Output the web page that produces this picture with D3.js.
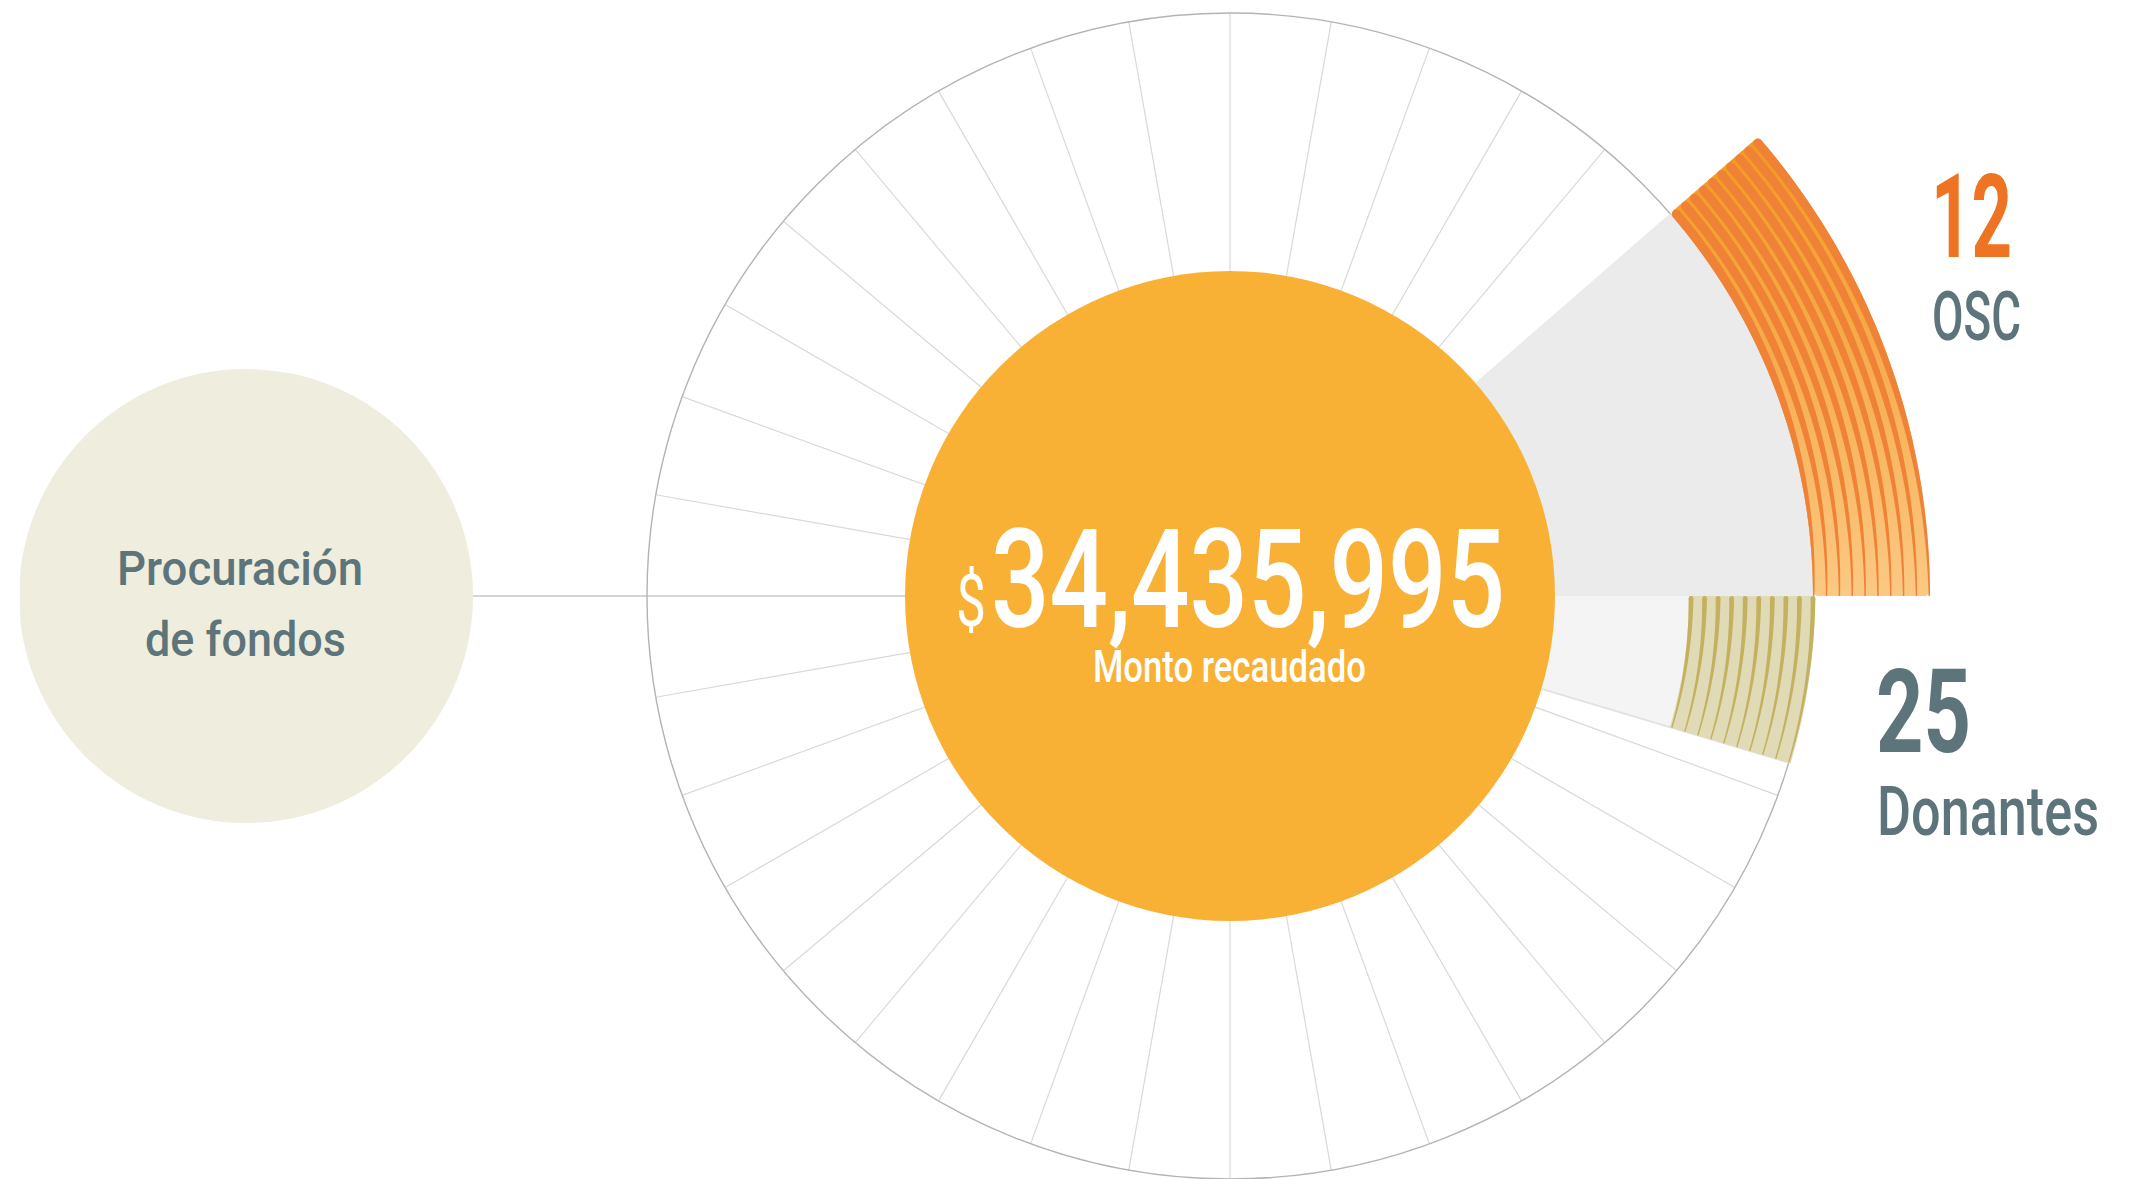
<!DOCTYPE html>
<html>
<head>
<meta charset="utf-8">
<script src="https://cdn.jsdelivr.net/npm/d3@7"></script>
<style>
	body { margin: 0; background: #fff; }
	text { font-family: Roboto, "Noto Sans", sans-serif; }
</style>
</head>
<body>
<svg class="chart"></svg>
<script>

// Chart values:

var groupLabels = ["OSC", "Donantes"],
	groupValues = [12, 25],
	groupSpans = [[0, 41], [0, -16.6]],   // degrees, counter-clockwise from 3 o'clock
	groupStripes = [10, 10],
	totalRaised = 34435995,
	totalLabel = "Monto recaudado",
	sourceLines = ["Procuración", "de fondos"],
	spokeStep = 10;

// Basic dimensions:

var width = 2142,
	height = 1179,
	cx = 1230,
	cy = 596,
	outerR = 583,
	innerR = 325,
	bandInner = 583,
	bandOuter = 700,
	donorInner = 459,
	donorOuter = 585,
	sourceX = 246,
	sourceR = 227;

var slate = "#5d747a",
	orange = "#ee7322";

var chart = d3.select(".chart")
	.attr("width", width)
	.attr("height", height);

// degrees (math convention) -> d3 radial angle
var angle = d3.scaleLinear().domain([0, 90]).range([Math.PI / 2, 0]);

function px(r, deg) { return r * Math.cos(deg * Math.PI / 180); }
function py(r, deg) { return -r * Math.sin(deg * Math.PI / 180); }

var defs = chart.append("defs");

// gradient in the coordinates of the centred group
var grad = defs.append("linearGradient")
	.attr("id", "bandGrad")
	.attr("gradientUnits", "userSpaceOnUse")
	.attr("x1", 0).attr("y1", py(bandOuter, groupSpans[0][1]))
	.attr("x2", 0).attr("y2", 0);
grad.append("stop").attr("offset", 0).attr("stop-color", "#f39a1d");
grad.append("stop").attr("offset", 0.45).attr("stop-color", "#f6ab4b");
grad.append("stop").attr("offset", 1).attr("stop-color", "#fbc984");

defs.append("clipPath").attr("id", "leftClip")
	.append("rect").attr("x", 20).attr("y", 0).attr("width", width).attr("height", height);

// Connector to the source circle (under everything):

chart.append("line")
	.attr("x1", sourceX + sourceR).attr("y1", cy)
	.attr("x2", cx).attr("y2", cy)
	.style("stroke", "#c6c6c6")
	.style("stroke-width", 1.5);

var g = chart.append("g").attr("transform", "translate(" + cx + "," + cy + ")");

// Spokes and outer ring:

g.selectAll(".spoke")
	.data(d3.range(0, 360, spokeStep))
	.enter().append("line")
	.attr("class", "spoke")
	.attr("x1", 0).attr("y1", 0)
	.attr("x2", function(d) { return px(outerR, d); })
	.attr("y2", function(d) { return py(outerR, d); })
	.style("stroke", "#d9d9d9")
	.style("stroke-width", 1.2);

g.append("circle")
	.attr("r", outerR)
	.style("fill", "none")
	.style("stroke", "#b3b3b3")
	.style("stroke-width", 1.4);

// Wedges behind the two groups:

var arc = d3.arc();

g.append("path")
	.attr("d", arc({ innerRadius: 0, outerRadius: outerR,
		startAngle: angle(groupSpans[0][1]), endAngle: angle(groupSpans[0][0]) }))
	.style("fill", "#ebebeb");

g.append("path")
	.attr("d", arc({ innerRadius: 0, outerRadius: donorOuter,
		startAngle: angle(groupSpans[1][0]), endAngle: angle(groupSpans[1][1]) }))
	.style("fill", "#f4f4f4");

g.append("line")
	.attr("x1", px(innerR, groupSpans[1][1])).attr("y1", py(innerR, groupSpans[1][1]))
	.attr("x2", px(donorOuter, groupSpans[1][1])).attr("y2", py(donorOuter, groupSpans[1][1]))
	.style("stroke", "#e2e2e2")
	.style("stroke-width", 2);

// OSC band: gradient base plus tapering stripes

g.append("path")
	.attr("d", arc.cornerRadius(5)({ innerRadius: bandInner, outerRadius: bandOuter,
		startAngle: angle(groupSpans[0][1]), endAngle: angle(groupSpans[0][0]) }))
	.style("fill", "url(#bandGrad)");
arc.cornerRadius(0);

var steps = d3.range(0, 61).map(function(i) { return i / 60; });

function oscThick(f) { return 1.4 + 7.6 * Math.sin(f * Math.PI / 2); }

var nOsc = groupStripes[0],
	bandW = bandOuter - bandInner;

d3.range(nOsc).forEach(function(i) {
	var a0 = groupSpans[0][0],
		tTop = oscThick(1),
		rTop = bandInner + i * (bandW - tTop) / (nOsc - 1) + tTop / 2,
		a1 = groupSpans[0][1] - (tTop / 2) / rTop * 180 / Math.PI;
	var inner = function(f) { return bandInner + i * (bandW - oscThick(f)) / (nOsc - 1); };
	var stripe = d3.areaRadial()
		.angle(function(f) { return angle(a0 + f * (a1 - a0)); })
		.innerRadius(inner)
		.outerRadius(function(f) { return inner(f) + oscThick(f); });
	g.append("path")
		.attr("d", stripe(steps))
		.style("fill", "#ef8237");
	g.append("circle")
		.attr("cx", px(rTop, a1))
		.attr("cy", py(rTop, a1))
		.attr("r", tTop / 2)
		.style("fill", "#ef8237");
});

// Donor band: pale fill with tapering gold lines

g.append("path")
	.attr("d", arc({ innerRadius: donorInner, outerRadius: donorOuter,
		startAngle: angle(groupSpans[1][0]), endAngle: angle(groupSpans[1][1]) }))
	.style("fill", "#e0dbb6");

var nDon = groupStripes[1];

d3.range(nDon).forEach(function(i) {
	var r = donorInner + 2 + i * (donorOuter - donorInner - 4) / (nDon - 1),
		wTop = 2.4,
		a0 = groupSpans[1][0] - wTop / r * 180 / Math.PI,
		a1 = groupSpans[1][1];
	var half = function(f) { return wTop - 1.7 * f; };
	var line = d3.areaRadial()
		.angle(function(f) { return angle(a0 + f * (a1 - a0)); })
		.innerRadius(function(f) { return r - half(f); })
		.outerRadius(function(f) { return r + half(f); });
	g.append("path")
		.attr("d", line(steps))
		.style("fill", "#c3b15f");
	g.append("circle")
		.attr("cx", px(r, a0))
		.attr("cy", py(r, a0))
		.attr("r", wTop)
		.style("fill", "#c3b15f");
});

// Central circle with the total:

g.append("circle")
	.attr("r", innerR)
	.style("fill", "#f8b135");

chart.append("text")
	.attr("x", 956).attr("y", 626)
	.attr("textLength", 30).attr("lengthAdjust", "spacingAndGlyphs")
	.style("font-size", "72px").style("font-weight", 400)
	.style("fill", "#fff")
	.text("$");

chart.append("text")
	.attr("x", 991).attr("y", 627)
	.attr("textLength", 514).attr("lengthAdjust", "spacingAndGlyphs")
	.style("font-size", "138px").style("font-weight", 500)
	.style("fill", "#fff")
	.text(d3.format(",")(totalRaised));

chart.append("text")
	.attr("x", 1093).attr("y", 682)
	.attr("textLength", 273).attr("lengthAdjust", "spacingAndGlyphs")
	.style("font-size", "45px").style("font-weight", 500)
	.style("fill", "#fff")
	.text(totalLabel);

// Source circle on the left:

chart.append("circle")
	.attr("clip-path", "url(#leftClip)")
	.attr("cx", sourceX).attr("cy", cy)
	.attr("r", sourceR)
	.style("fill", "#efeddd");

var sourcePos = [{ x: 117, y: 585, w: 246 }, { x: 145, y: 656, w: 201 }];
sourceLines.forEach(function(s, i) {
	chart.append("text")
		.attr("x", sourcePos[i].x).attr("y", sourcePos[i].y)
		.attr("textLength", sourcePos[i].w).attr("lengthAdjust", "spacingAndGlyphs")
		.style("font-size", "48px").style("font-weight", 500)
		.style("fill", slate)
		.text(s);
});

// Group labels on the right:

var labelPos = [
	{ x: 1931, num: 257, numW: 81, lab: 340, labW: 89, color: orange },
	{ x: 1876, num: 752, numW: 95, lab: 835, labW: 222, color: slate }
];

groupValues.forEach(function(v, i) {
	var p = labelPos[i];
	chart.append("text")
		.attr("x", p.x).attr("y", p.num)
		.attr("textLength", p.numW).attr("lengthAdjust", "spacingAndGlyphs")
		.style("font-size", "117px").style("font-weight", 700)
		.style("fill", p.color)
		.text(v);
	chart.append("text")
		.attr("x", p.x + 1).attr("y", p.lab)
		.attr("textLength", p.labW).attr("lengthAdjust", "spacingAndGlyphs")
		.style("font-size", "69px").style("font-weight", 500)
		.style("fill", slate)
		.text(groupLabels[i]);
});

</script>
</body>
</html>
